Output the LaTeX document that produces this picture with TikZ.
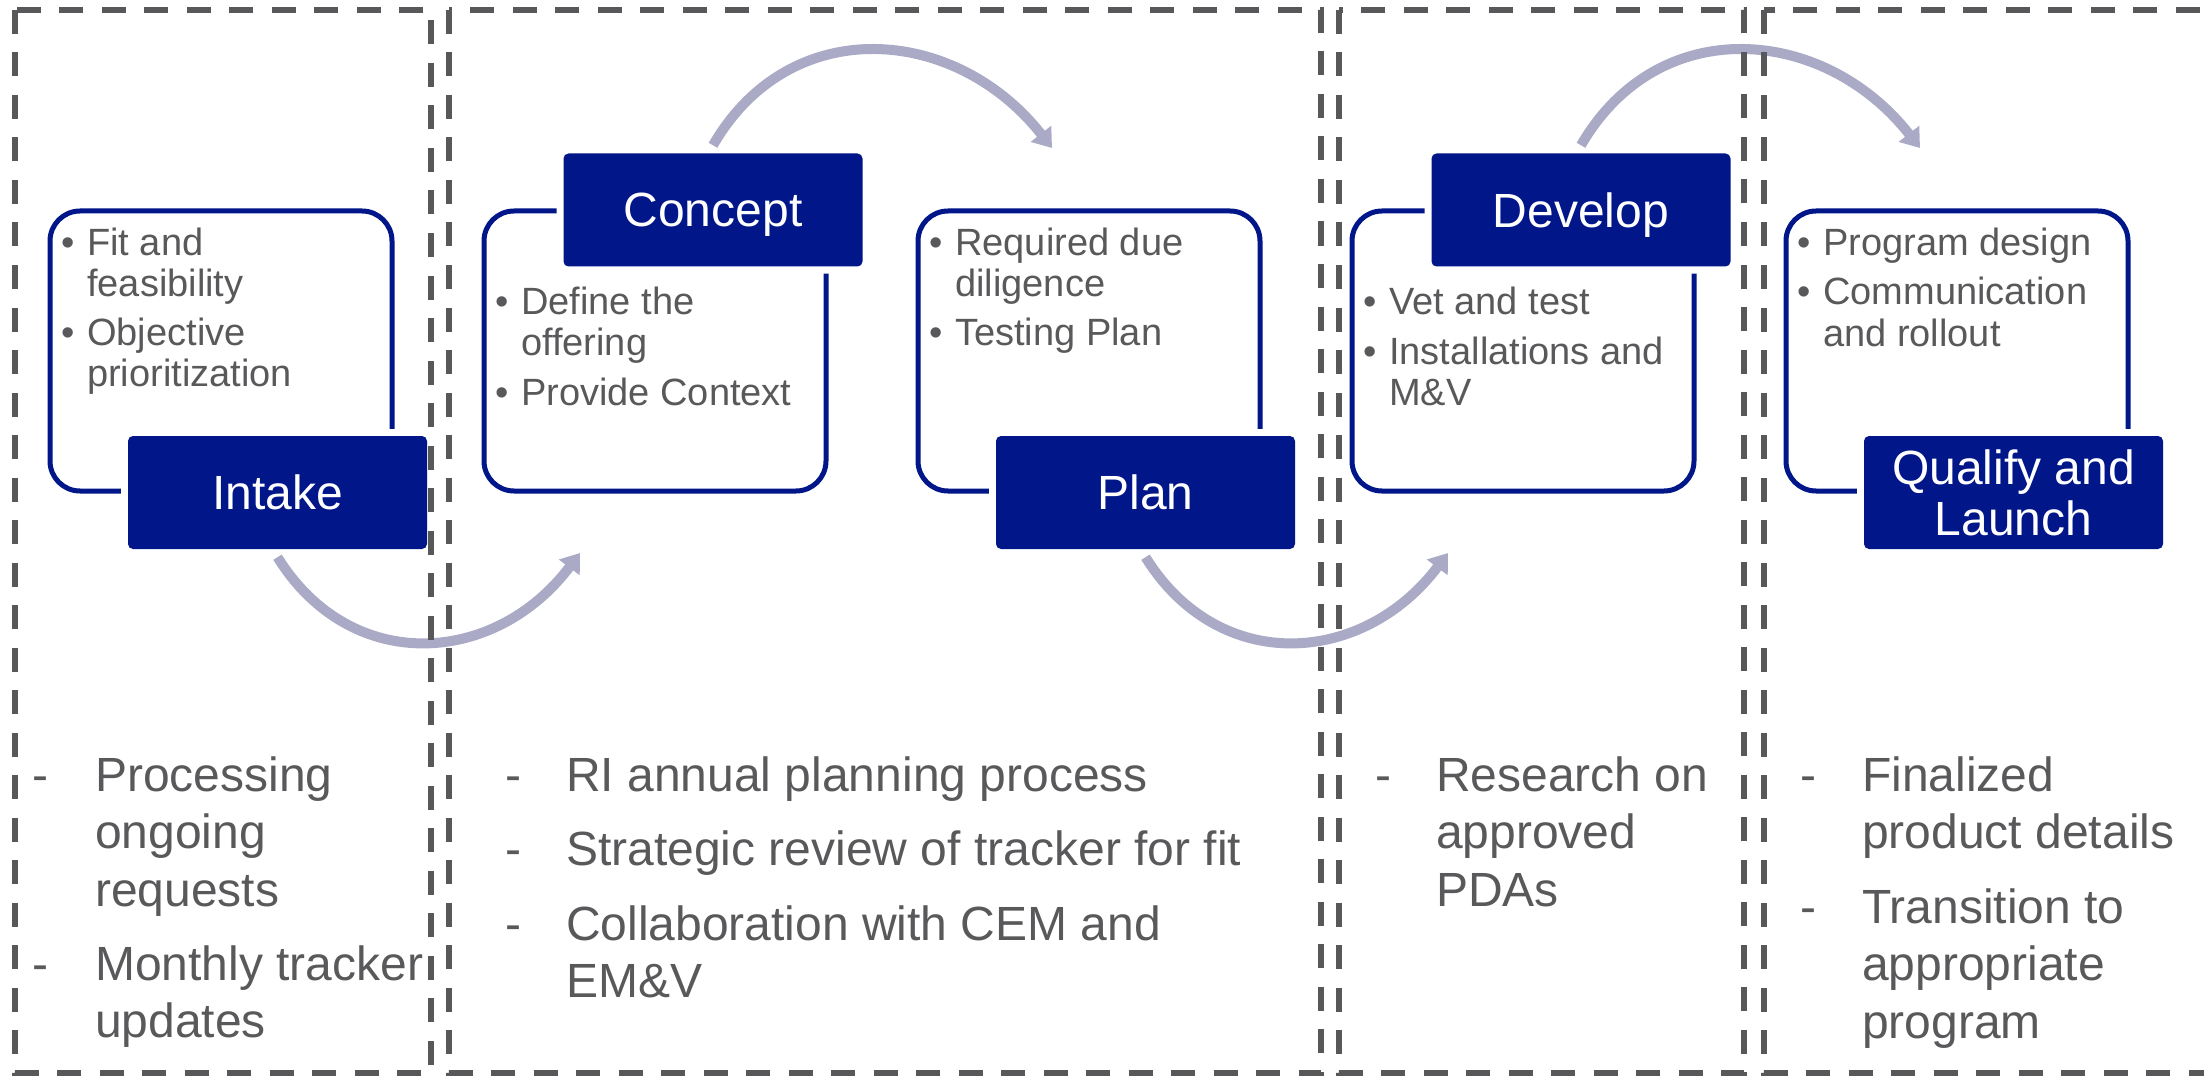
\documentclass[tikz,border=0pt]{standalone}
\usepackage{fontspec}
\setmainfont{Liberation Sans}
\usetikzlibrary{arrows.meta,calc}
\definecolor{stagenavy}{RGB}{0,22,137}
\definecolor{arcgray}{RGB}{170,170,199}
\definecolor{framegray}{RGB}{88,88,91}
\definecolor{txtgray}{RGB}{89,89,91}
\begin{document}
\begin{tikzpicture}[x=1pt,y=-1pt,
  outline/.style={draw=stagenavy,line width=5pt,rounded corners=30pt,minimum width=342pt,minimum height=280pt,inner sep=0pt},
  stagelabel/.style={fill=stagenavy,rounded corners=5pt,minimum width=299pt,minimum height=113pt,inner sep=0pt,text=white,font=\fontsize{48}{51}\selectfont,align=center,preaction={draw=white,line width=14pt}},
  bul/.style={anchor=base,inner sep=0pt,text=txtgray,font=\fontsize{38}{41}\selectfont},
  btext/.style={anchor=base west,inner sep=0pt,text=txtgray,font=\fontsize{38}{41}\selectfont},
  dsh/.style={anchor=base,inner sep=0pt,text=txtgray,font=\fontsize{48}{57.5}\selectfont},
  ltext/.style={anchor=base west,inner sep=0pt,text=txtgray,font=\fontsize{48}{57.5}\selectfont},
  flow/.style={draw=arcgray,line width=10pt,-{Triangle[width=25pt,length=18pt]}},
  frame/.style={draw=framegray,line width=6pt,dash pattern=on 24pt off 18.5pt}]
\useasboundingbox (0,0) rectangle (2204,1078);

% outlines
\node[outline] (o1) at (221,351) {};
\node[outline] (o2) at (655,351) {};
\node[outline] (o3) at (1089,351) {};
\node[outline] (o4) at (1523,351) {};
\node[outline] (o5) at (1957,351) {};

% stage labels
\node[stagelabel] (intake) at (277.5,492.5) {Intake};
\node[stagelabel,text depth=0pt] (concept) at (713,210) {Concept};
\node[stagelabel,text depth=0pt] (plan) at (1145.5,492.5) {Plan};
\node[stagelabel,text depth=0pt] (develop) at (1581,210) {Develop};
\node[stagelabel] (qualify) at (2013.5,492.5) {Qualify and\\Launch};

% flow arcs
\coordinate (a1s) at ($(intake.south)+(0,8)$);
\coordinate (a1e) at (580,553);
\coordinate (a2s) at ($(concept.north)+(0,-8)$);
\coordinate (a2e) at (1052,148);
\coordinate (a3s) at ($(plan.south)+(0,8)$);
\coordinate (a3e) at (1448,553);
\coordinate (a4s) at ($(develop.north)+(0,-8)$);
\coordinate (a4e) at (1920,148);
\draw[flow] (a1s) .. controls +(74,119) and +(-84,112) .. (a1e);
\draw[flow] (a2s) .. controls +(77.5,-134) and +(-95.5,-122) .. (a2e);
\draw[flow] (a3s) .. controls +(74,119) and +(-84,112) .. (a3e);
\draw[flow] (a4s) .. controls +(77.5,-134) and +(-95.5,-122) .. (a4e);

% inner texts
\node[bul] (b1a) at (68,255) {•};
\node[btext] (t1a) at (87,255) {\parbox[t]{300pt}{Fit and\\feasibility}};
\node[bul] (b1b) at (68,345) {•};
\node[btext] (t1b) at (87,345) {\parbox[t]{300pt}{Objective\\prioritization}};

\node[bul] (b2a) at (502,314) {•};
\node[btext] (t2a) at (521,314) {\parbox[t]{300pt}{Define the\\offering}};
\node[bul] (b2b) at (502,405) {•};
\node[btext] (t2b) at (521,405) {\parbox[t]{300pt}{Provide Context}};

\node[bul] (b3a) at (936,255) {•};
\node[btext] (t3a) at (955,255) {\parbox[t]{300pt}{Required due\\diligence}};
\node[bul] (b3b) at (936,345) {•};
\node[btext] (t3b) at (955,345) {\parbox[t]{300pt}{Testing Plan}};

\node[bul] (b4a) at (1370,314) {•};
\node[btext] (t4a) at (1389,314) {\parbox[t]{300pt}{Vet and test}};
\node[bul] (b4b) at (1370,364) {•};
\node[btext] (t4b) at (1389,364) {\parbox[t]{300pt}{Installations and\\M\&V}};

\node[bul] (b5a) at (1804,255) {•};
\node[btext] (t5a) at (1823,255) {\parbox[t]{300pt}{Program design}};
\node[bul] (b5b) at (1804,305) {•};
\node[btext] (t5b) at (1823,305) {\parbox[t]{300pt}{Communication\\and rollout}};

% lower texts
\node[dsh] (d1a) at (40,791) {-};
\node[ltext] (l1a) at (95,791) {\parbox[t]{400pt}{Processing\\ongoing\\requests}};
\node[dsh] (d1b) at (40,980) {-};
\node[ltext] (l1b) at (95,980) {\parbox[t]{400pt}{Monthly tracker\\updates}};

\node[dsh] (d2a) at (513,791) {-};
\node[ltext] (l2a) at (566,791) {\parbox[t]{800pt}{RI annual planning process}};
\node[dsh] (d2b) at (513,865) {-};
\node[ltext] (l2b) at (566,865) {\parbox[t]{800pt}{Strategic review of tracker for fit}};
\node[dsh] (d2c) at (513,940) {-};
\node[ltext] (l2c) at (566,940) {\parbox[t]{800pt}{Collaboration with CEM and\\EM\&V}};

\node[dsh] (d3a) at (1383,791) {-};
\node[ltext] (l3a) at (1436,791) {\parbox[t]{400pt}{Research on\\approved\\PDAs}};

\node[dsh] (d4a) at (1808,791) {-};
\node[ltext] (l4a) at (1862,791) {\parbox[t]{400pt}{Finalized\\product details}};
\node[dsh] (d4b) at (1808,923) {-};
\node[ltext] (l4b) at (1862,923) {\parbox[t]{400pt}{Transition to\\appropriate\\program}};

% dashed phase frames
\draw[frame] (15,10) rectangle (431,1073);
\draw[frame] (449,10) rectangle (1321,1073);
\draw[frame] (1339,10) rectangle (1744,1073);
\draw[frame] (1764,10) rectangle (2215,1073);
\end{tikzpicture}
\end{document}
